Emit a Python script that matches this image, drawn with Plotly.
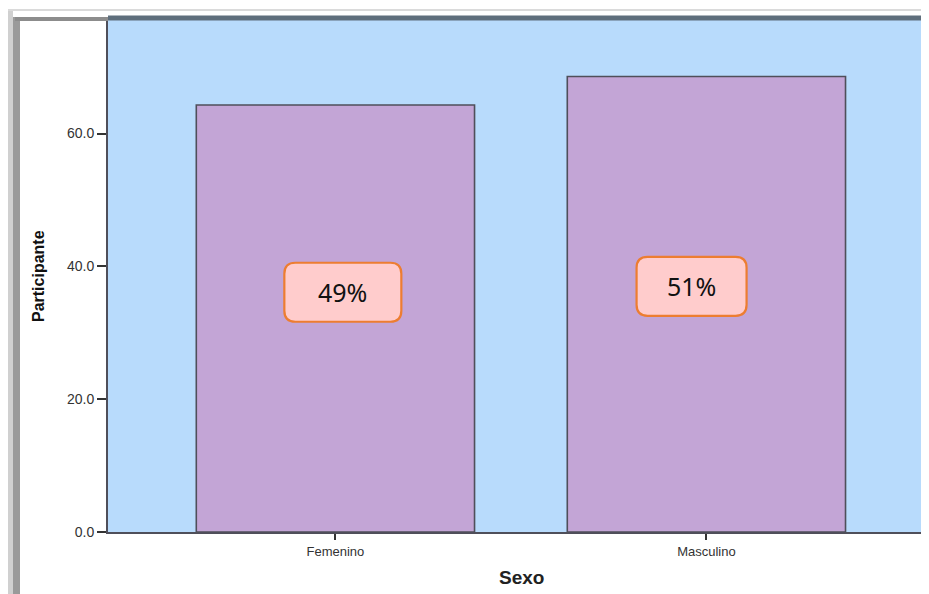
import plotly.graph_objects as go

# data
categories = ["Femenino", "Masculino"]
participantes = [64.3, 68.6]
porcentajes = ["49%", "51%"]
label_y = [36.1, 37.0]
label_dx = [0.02, -0.04]

# the page body adds an 8px margin, so the figure is drawn 8px in from the window corner
OFF = 8
W, H = 929 - OFF, 594 - OFF
L, R, T = 108 - OFF, 0, 18 - OFF
B = H - T - 514
plot_w = W - L - R
plot_h = H - T - B
x_range = [-0.613, 1.60]
y_range = [0, 77.4]
px_x = plot_w / (x_range[1] - x_range[0])
px_y = plot_h / (y_range[1] - y_range[0])


def px(xp):
    # window pixel -> paper x
    return (xp - OFF - L) / plot_w


def py(yp):
    # window pixel -> paper y
    return 1 - (yp - OFF - T) / plot_h


def rounded_box(cx, cy, w_px, h_px, r_px):
    """rounded rectangle path in data coords, sizes in pixels"""
    hw, hh = w_px / 2 / px_x, h_px / 2 / px_y
    rx, ry = r_px / px_x, r_px / px_y
    x0, x1, y0, y1 = cx - hw, cx + hw, cy - hh, cy + hh
    return (f"M{x0 + rx},{y0} L{x1 - rx},{y0} Q{x1},{y0} {x1},{y0 + ry} "
            f"L{x1},{y1 - ry} Q{x1},{y1} {x1 - rx},{y1} L{x0 + rx},{y1} "
            f"Q{x0},{y1} {x0},{y1 - ry} L{x0},{y0 + ry} Q{x0},{y0} {x0 + rx},{y0} Z")


fig = go.Figure(go.Bar(
    x=list(range(len(categories))),
    y=participantes,
    width=0.75,
    marker_color="#C3A5D6",
    marker_line=dict(color="#4F4F5A", width=1.6),
    hoverinfo="x+y",
))

shapes = []
annotations = []
box_w = [117, 110]
for i, (lab, ly, dx) in enumerate(zip(porcentajes, label_y, label_dx)):
    shapes.append(dict(
        type="path", xref="x", yref="y",
        path=rounded_box(i + dx, ly, box_w[i], 59, 11),
        fillcolor="#FFCCCC", line=dict(color="#ED7D31", width=2.2),
    ))
    annotations.append(dict(
        x=i + dx, y=ly, xref="x", yref="y", text=lab, showarrow=False,
        xanchor="center", yanchor="middle",
        font=dict(family="Noto Sans, Open Sans, sans-serif", size=25, color="#111111"),
    ))

# frame around the chart
shapes += [
    dict(type="line", xref="paper", yref="paper", x0=px(8), x1=px(929), y0=py(10), y1=py(10),
         line=dict(color="#DADADA", width=2)),
    dict(type="rect", xref="paper", yref="paper", x0=px(8), x1=px(13), y0=py(594), y1=py(11),
         fillcolor="#D0D0D0", line_width=0),
    dict(type="rect", xref="paper", yref="paper", x0=px(13), x1=px(20), y0=py(594), y1=py(17),
         fillcolor="#9A9A9A", line_width=0),
    dict(type="line", xref="paper", yref="paper", x0=px(15), x1=px(108), y0=py(19), y1=py(19),
         line=dict(color="#8C8C8C", width=4)),
    dict(type="line", xref="paper", yref="paper", x0=0, x1=1, y0=1, y1=1,
         line=dict(color="#5E6E7C", width=5)),
]

annotations += [
    dict(text="<b>Participante</b>", xref="paper", yref="paper", x=px(38), y=py(276),
         xanchor="center", yanchor="middle", textangle=-90, showarrow=False,
         font=dict(family="Liberation Sans Narrow, Arial Narrow, Arial, sans-serif", size=16, color="#111111")),
    dict(text="<b>Sexo</b>", xref="paper", yref="paper", x=px(521), y=py(577),
         xanchor="center", yanchor="middle", showarrow=False,
         font=dict(family="Liberation Sans, Arial, sans-serif", size=19, color="#222222")),
]

fig.update_layout(
    width=W, height=H,
    margin=dict(l=L, r=R, t=T, b=B),
    paper_bgcolor="white",
    plot_bgcolor="#B8DBFC",
    showlegend=False,
    shapes=shapes,
    annotations=annotations,
    font=dict(family="Liberation Sans, Arial, sans-serif", color="#333333"),
)
fig.update_xaxes(
    range=x_range,
    tickvals=list(range(len(categories))),
    ticktext=categories,
    ticks="outside", ticklen=6, tickwidth=1.5, tickcolor="#333333",
    tickfont=dict(size=13, color="#333333"),
    showline=True, linecolor="#4F4F5A", linewidth=2,
    showgrid=False, zeroline=False,
)
fig.update_yaxes(
    range=y_range,
    tickvals=[0, 20, 40, 60],
    tickformat=".1f",
    ticks="outside", ticklen=9, tickwidth=2, tickcolor="#333333",
    tickfont=dict(size=14, color="#333333"),
    showline=True, linecolor="#4F4F5A", linewidth=2,
    showgrid=False, zeroline=False,
)

fig.write_html("out.html")
